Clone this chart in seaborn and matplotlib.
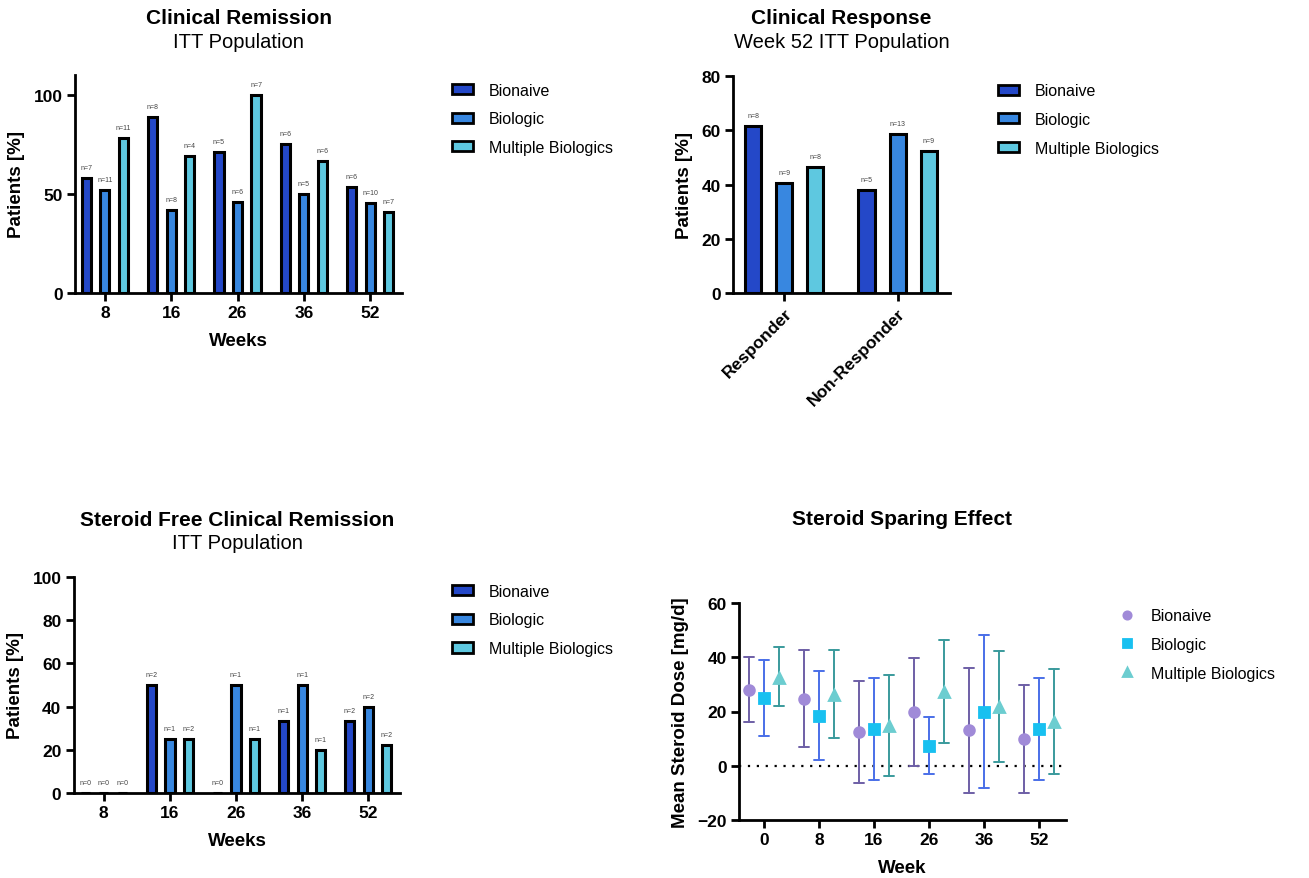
import matplotlib
matplotlib.use("Agg")
import matplotlib.pyplot as plt
import numpy as np
import pandas as pd
import seaborn as sns

sns.set_theme(style="ticks")
plt.rcParams["font.family"] = ["Liberation Sans", "DejaVu Sans"]
plt.rcParams.update({"text.color": "black", "axes.labelcolor": "black",
                     "xtick.color": "black", "ytick.color": "black"})

# ---- data -------------------------------------------------------------
groups = ["Bionaive", "Biologic", "Multiple Biologics"]
weeks = ["8", "16", "26", "36", "52"]

# Clinical remission (ITT), % of patients and n per bar
remission_bionaive = [58, 89, 71, 75, 53.5]
remission_biologic = [52, 42, 46, 50, 45.5]
remission_multiple = [78, 69, 100, 66.5, 41]
remission_n_bionaive = [7, 8, 5, 6, 6]
remission_n_biologic = [11, 8, 6, 5, 10]
remission_n_multiple = [11, 4, 7, 6, 7]

# Clinical response at week 52 (ITT)
response_cats = ["Responder", "Non-Responder"]
response_bionaive = [61.5, 38]
response_biologic = [40.5, 58.5]
response_multiple = [46.5, 52.5]
response_n_bionaive = [8, 5]
response_n_biologic = [9, 13]
response_n_multiple = [8, 9]

# Steroid free clinical remission (ITT)
sfree_bionaive = [0, 50, 0, 33.3, 33.3]
sfree_biologic = [0, 25, 50, 50, 40]
sfree_multiple = [0, 25, 25, 20, 22.2]
sfree_n_bionaive = [0, 2, 0, 1, 2]
sfree_n_biologic = [0, 1, 1, 1, 2]
sfree_n_multiple = [0, 2, 1, 1, 2]

# Steroid sparing effect: mean dose with lower / upper error limits
dose_weeks = ["0", "8", "16", "26", "36", "52"]
dose_mean_bionaive = [28, 24.7, 12.4, 20, 13.3, 9.9]
dose_low_bionaive = [16, 6.9, -6.5, 0, -9.9, -10]
dose_high_bionaive = [40.1, 42.5, 31.3, 39.9, 36.2, 29.9]
dose_mean_biologic = [24.9, 18.5, 13.5, 7.4, 20, 13.6]
dose_low_biologic = [10.8, 2.1, -5.3, -3.2, -8.3, -5.3]
dose_high_biologic = [39, 35.1, 32.4, 18, 48.1, 32.4]
dose_mean_multiple = [32.5, 26, 14.5, 27.2, 21.6, 16]
dose_low_multiple = [22.1, 10.1, -3.6, 8.5, 1.5, -3.1]
dose_high_multiple = [43.7, 42.5, 33.5, 46.3, 42.3, 35.6]

# ---- styling ----------------------------------------------------------
bar_palette = ["#2448c8", "#3887e0", "#5ec8e0"]
marker_palette = ["#a08ad8", "#18c0f0", "#6ccdd0"]
errbar_palette = ["#6e5fa6", "#4a6fe8", "#3a9a9c"]
SPINE_W = 2.0
W, H = 1309, 879


def px_axes(left, top, right, bottom):
    return [left / W, 1 - bottom / H, (right - left) / W, (bottom - top) / H]


def style_axis(ax):
    sns.despine(ax=ax)
    for s in ("left", "bottom"):
        ax.spines[s].set_linewidth(SPINE_W)
        ax.spines[s].set_color("black")
    ax.tick_params(axis="both", width=SPINE_W, length=6, color="black",
                   labelsize=12.5, pad=3)
    for lab in ax.get_xticklabels() + ax.get_yticklabels():
        lab.set_fontweight("bold")
    ax.xaxis.label.set_fontweight("bold")
    ax.yaxis.label.set_fontweight("bold")
    ax.xaxis.label.set_fontsize(13.5)
    ax.yaxis.label.set_fontsize(13.5)


def titles(ax, main, sub, y_main, y_sub):
    ax.text(0.5, y_main, main, transform=ax.transAxes, ha="center", va="center",
            fontsize=15, fontweight="bold")
    if sub:
        ax.text(0.5, y_sub, sub, transform=ax.transAxes, ha="center", va="center",
                fontsize=14.5)


def long_table(cats, col, series, counts):
    rows = []
    for g, vals, ns in zip(groups, series, counts):
        for c, v, n in zip(cats, vals, ns):
            rows.append({col: c, "group": g, "value": v, "n": n})
    return pd.DataFrame(rows)


def bar_panel(ax, df, col, order, width, gap):
    sns.barplot(data=df, x=col, y="value", hue="group", order=order,
                hue_order=groups, palette=bar_palette, width=width, gap=gap,
                edgecolor="black", linewidth=2.2, saturation=1, errorbar=None,
                ax=ax)
    for g, cont in zip(groups, ax.containers):
        sub = df[df["group"] == g].set_index(col).loc[order]
        for patch, n in zip(cont.patches, sub["n"]):
            ax.annotate(f"n={n}", (patch.get_x() + patch.get_width() / 2,
                                   patch.get_height()),
                        xytext=(0, 5), textcoords="offset points",
                        ha="center", va="bottom", fontsize=5, color="#444444")


def bar_legend(ax, x, y):
    leg = ax.legend(loc="upper left", bbox_to_anchor=(x, y), frameon=False,
                    fontsize=11.5, handlelength=1.3, handleheight=0.6,
                    handletextpad=1.0, labelspacing=0.85, borderpad=0,
                    borderaxespad=0)
    for h in leg.legend_handles:
        h.set_linewidth(2.0)
        h.set_edgecolor("black")


fig = plt.figure(figsize=(W / 100, H / 100), dpi=100)

# ---- Clinical remission -----------------------------------------------
axA = fig.add_axes(px_axes(75, 76, 402, 294))
dfA = long_table(weeks, "week",
                 [remission_bionaive, remission_biologic, remission_multiple],
                 [remission_n_bionaive, remission_n_biologic, remission_n_multiple])
bar_panel(axA, dfA, "week", weeks, 0.84, 0.5)
axA.set_ylim(0, 110)
axA.set_yticks([0, 50, 100])
axA.set_xlim(-0.45, 4.48)
axA.set_xlabel("Weeks", labelpad=8)
axA.set_ylabel("Patients [%]", labelpad=6)
style_axis(axA)
bar_legend(axA, 1.153, 0.965)
titles(axA, "Clinical Remission", "ITT Population", 1.265, 1.155)

# ---- Clinical response ------------------------------------------------
axB = fig.add_axes(px_axes(733, 77, 950, 294))
dfB = long_table(response_cats, "resp",
                 [response_bionaive, response_biologic, response_multiple],
                 [response_n_bionaive, response_n_biologic, response_n_multiple])
bar_panel(axB, dfB, "resp", response_cats, 0.82, 0.47)
axB.set_ylim(0, 80)
axB.set_yticks([0, 20, 40, 60, 80])
axB.set_xlim(-0.45, 1.46)
axB.set_xlabel("")
axB.set_ylabel("Patients [%]", labelpad=6)
style_axis(axB)
for lab in axB.get_xticklabels():
    lab.set_rotation(45)
    lab.set_ha("right")
    lab.set_rotation_mode("anchor")
bar_legend(axB, 1.221, 0.966)
titles(axB, "Clinical Response", "Week 52 ITT Population", 1.27, 1.16)

# ---- Steroid free clinical remission ----------------------------------
axC = fig.add_axes(px_axes(74, 578, 400, 794))
dfC = long_table(weeks, "week",
                 [sfree_bionaive, sfree_biologic, sfree_multiple],
                 [sfree_n_bionaive, sfree_n_biologic, sfree_n_multiple])
bar_panel(axC, dfC, "week", weeks, 0.84, 0.5)
axC.set_ylim(0, 100)
axC.set_yticks([0, 20, 40, 60, 80, 100])
axC.set_xlim(-0.45, 4.48)
axC.set_xlabel("Weeks", labelpad=8)
axC.set_ylabel("Patients [%]", labelpad=6)
style_axis(axC)
bar_legend(axC, 1.16, 0.968)
titles(axC, "Steroid Free Clinical Remission", "ITT Population", 1.265, 1.16)

# ---- Steroid sparing effect -------------------------------------------
axD = fig.add_axes(px_axes(739, 604, 1066, 821))
spread_rows, mean_rows = [], []
for g, m, lo, hi in zip(groups,
                        [dose_mean_bionaive, dose_mean_biologic, dose_mean_multiple],
                        [dose_low_bionaive, dose_low_biologic, dose_low_multiple],
                        [dose_high_bionaive, dose_high_biologic, dose_high_multiple]):
    for w, mv, lv, hv in zip(dose_weeks, m, lo, hi):
        mean_rows.append({"week": w, "group": g, "dose": mv})
        for v in (lv, mv, hv):
            spread_rows.append({"week": w, "group": g, "dose": v})
df_spread = pd.DataFrame(spread_rows)
df_mean = pd.DataFrame(mean_rows)

axD.axhline(0, color="black", linestyle=(0, (1, 3)), linewidth=1.6, zorder=1)
sns.pointplot(data=df_spread, x="week", y="dose", hue="group", order=dose_weeks,
              hue_order=groups, palette=errbar_palette, estimator="median",
              errorbar=("pi", 100), capsize=0.18, linestyle="none",
              markers="o", markersize=0, dodge=0.54,
              err_kws={"linewidth": 1.4}, legend=False, ax=axD)
sns.pointplot(data=df_mean, x="week", y="dose", hue="group", order=dose_weeks,
              hue_order=groups, palette=marker_palette, errorbar=None,
              linestyle="none", markers=["o", "s", "^"], markersize=7,
              dodge=0.54, ax=axD)
axD.set_ylim(-20, 60)
axD.set_yticks([-20, 0, 20, 40, 60])
axD.set_xlim(-0.45, 5.485)
axD.set_xlabel("Week", labelpad=8)
axD.set_ylabel("Mean Steroid Dose [mg/d]", labelpad=6)
style_axis(axD)
legD = axD.legend(loc="upper left", bbox_to_anchor=(1.163, 0.975), frameon=False,
                  fontsize=11.5, handlelength=1.0, handletextpad=1.0,
                  labelspacing=0.85, borderpad=0, borderaxespad=0,
                  markerscale=0.75)
titles(axD, "Steroid Sparing Effect", None, 1.39, None)

fig.savefig("out.png", dpi=100, facecolor="white")
